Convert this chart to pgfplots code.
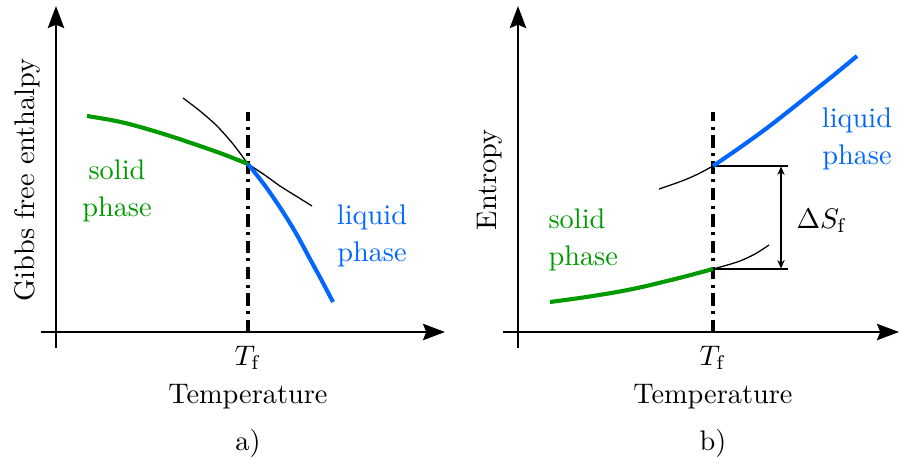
\documentclass[border=0pt]{standalone}
\usepackage{pgfplots}
\pgfplotsset{compat=1.18}
\usetikzlibrary{arrows.meta}
\definecolor{solidgreen}{RGB}{0,153,0}
\definecolor{liquidblue}{RGB}{0,102,255}
\begin{document}
\begin{tikzpicture}[x=0.353pt,y=0.353pt]
\pgfplotsset{
  phaseaxis/.style={
    x=0.353pt, y=0.353pt,
    axis lines=middle,
    axis line style={line width=0.75pt,-{Stealth[length=7.8pt,width=5.8pt,inset=1.2pt]}},
    xmin=-15, ymin=-16, ymax=326,
    ytick=\empty,
    major tick length=0pt,
    xticklabel style={yshift=-1.5pt},
    clip=false,
    anchor=south west,
  },
}
\tikzset{
  dashdot/.style={black, line width=1.25pt, dash pattern=on 4.4pt off 1.9pt on 1.1pt off 1.9pt},
  thick phase/.style={line width=1.45pt},
  thin guide/.style={black, line width=0.45pt},
}
% ---------- a) ----------
\begin{axis}[phaseaxis, at={(0,0)}, xmax=389,
  xtick={192}, xticklabels={$T_{\mathrm{f}}$}]
\addplot[dashdot] coordinates {(192,0) (192,220)};
\addplot[thin guide, smooth] coordinates {(127,234) (144,221) (161,206) (177,188) (192,168)};
\addplot[thin guide, smooth] coordinates {(192,168) (208,157.5) (224,146) (240,136) (256,126)};
\addplot[thick phase, solidgreen, smooth] coordinates {(31,216) (55,212) (77,207) (111,197) (144,186) (168,177.5) (192,168)};
\addplot[thick phase, liquidblue, smooth] coordinates {(192,168) (210,145) (227,120) (241,97) (254,73) (266,51) (277,30)};
\node[solidgreen, align=center] at (axis cs:61,141) {solid\\[0.8pt]phase};
\node[liquidblue, align=center] at (axis cs:316,96) {liquid\\[0.8pt]phase};
\node at (axis cs:192,-65) {Temperature};
\node at (axis cs:192,-111) {a)};
\node[rotate=90] at (axis cs:-29,152) {Gibbs free enthalpy};
\end{axis}
% ---------- b) ----------
\begin{axis}[phaseaxis, at={(462,0)}, xmax=381,
  xtick={195}, xticklabels={$T_{\mathrm{f}}$}]
\addplot[dashdot] coordinates {(195,0) (195,220)};
\addplot[thin guide, smooth] coordinates {(141,143) (155,147.8) (169,153) (182,159) (195,166)};
\addplot[thin guide, smooth] coordinates {(195,63) (208,66.6) (222,71) (237,78) (251,87)};
\addplot[black, line width=0.45pt] coordinates {(195,166) (270,166)};
\addplot[black, line width=0.45pt] coordinates {(195,63) (270,63)};
\addplot[black, line width=0.45pt, {Stealth[length=3pt,width=2.6pt,open]}-{Stealth[length=3pt,width=2.6pt,open]}] coordinates {(263,63.5) (263,165.5)};
\addplot[thick phase, solidgreen, smooth] coordinates {(32,30) (65,34.5) (99,40) (124,45) (149,51) (172,56.8) (195,63)};
\addplot[thick phase, liquidblue, smooth] coordinates {(195,166) (222,184.5) (249,204) (274,223.5) (299,243.5) (319,259.5) (339,276)};
\node at (axis cs:304,111) {$\Delta S_{\mathrm{f}}$};
\node[liquidblue, align=center] at (axis cs:339,193) {liquid\\[0.8pt]phase};
\node[solidgreen, align=left, anchor=west, inner sep=0pt] at (axis cs:30,92) {solid\\[0.8pt]phase};
\node at (axis cs:195,-65) {Temperature};
\node at (axis cs:195,-111) {b)};
\node[rotate=90] at (axis cs:-28,152) {Entropy};
\end{axis}
\pgfresetboundingbox
\path (-41,-109) rectangle (858,348);
\end{tikzpicture}
\end{document}
